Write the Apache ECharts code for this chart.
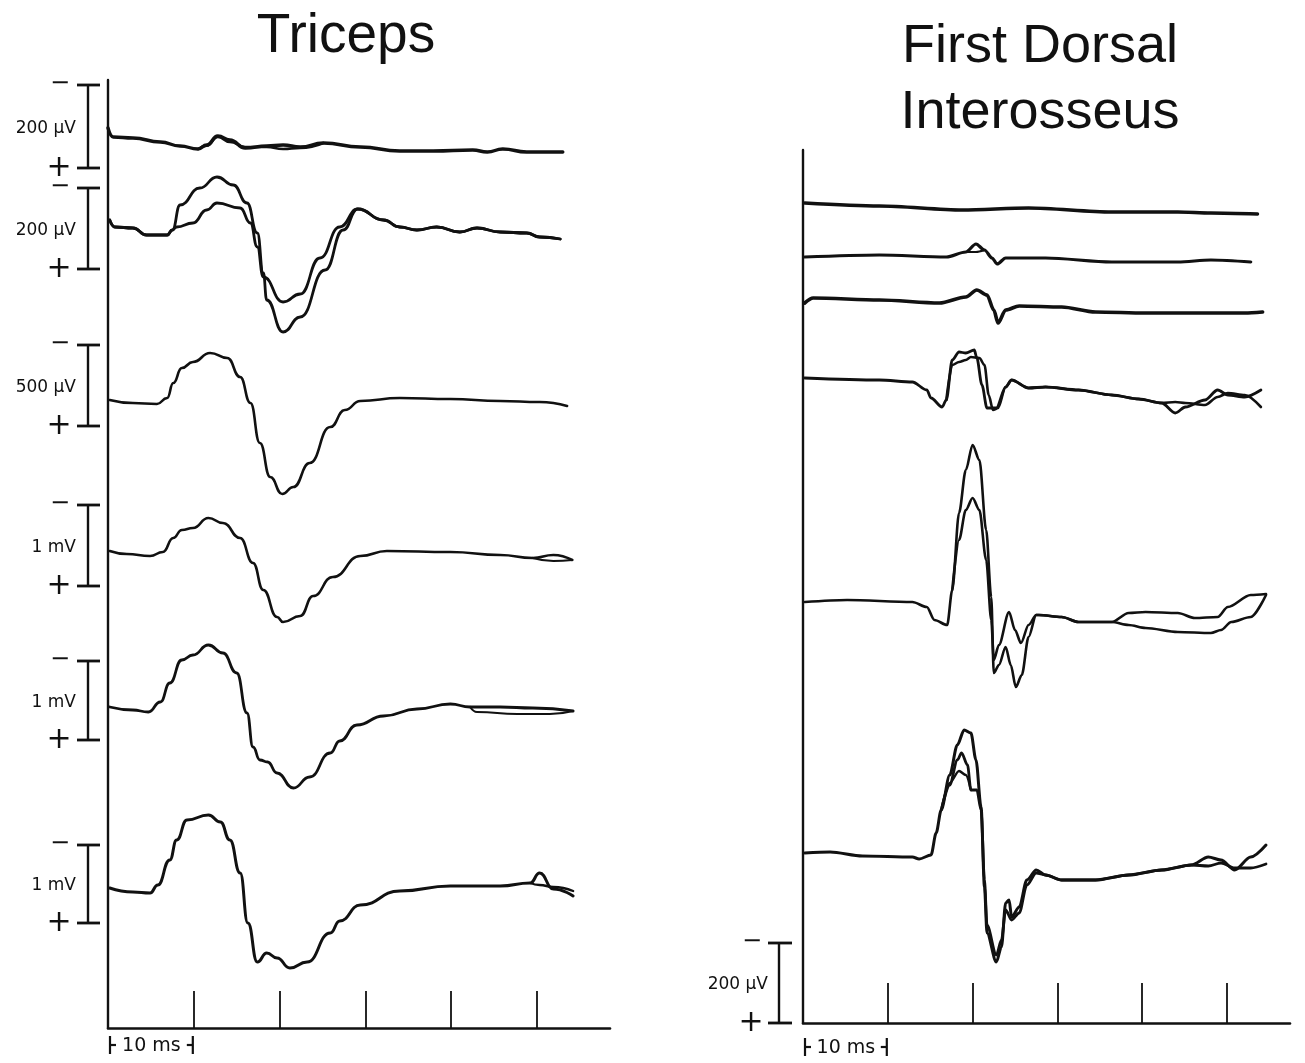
<!DOCTYPE html>
<html><head><meta charset="utf-8">
<script src="https://cdn.jsdelivr.net/npm/echarts@6/dist/echarts.min.js"></script>
<style>html,body{margin:0;padding:0;background:#fff}#c{width:1305px;height:1063px}</style>
</head><body><div id="c"></div><script>
// ---------- DATA (time in ms, amplitude in µV, up = negative polarity as drawn) ----------
const panelTitles = ['Triceps', 'First Dorsal\nInterosseus'];
const timeTicks = [10, 20, 30, 40, 50];
const scaleBarMs = 10;
const scaleBarLabel = '10 ms';

// Triceps: calibration of each row
const triCal = [200, 200, 500, 1000, 1000, 1000];
const triCalLabels = ['200 µV', '200 µV', '500 µV', '1 mV', '1 mV', '1 mV'];

const tri1a = [[0,22.5],[0.6,0],[2.9,-2.5],[6.1,-12.5],[8.4,-22.5],[10.5,-30],[11.5,-20],[12.8,2.5],[14.2,-7.5],[16.0,-27.5],[18.5,-22.5],[20.4,-20],[22.4,-25],[25.1,-15],[29.4,-25],[34.0,-35],[37.9,-35],[42.5,-32.5],[44.2,-37.5],[46.0,-30],[48.8,-37.5],[53.0,-37.5]];
const tri1b = [[10.5,-30],[11.5,-22],[12.8,0],[14.2,-12.5],[16.0,-25],[18.5,-25],[20.4,-30],[22.4,-27.5],[25.1,-15]];

const tri2Start = [[0.2,20],[0.8,2.5],[2.9,0],[4.5,-17.5],[6.9,-17.5],[7.5,-5]];
const tri2PeakA = [[8.4,57.5],[10.7,100],[12.7,127.5],[14.6,107.5],[16.2,62.5],[17.4,-12.5],[18.1,-112.5],[18.5,-180],[20.4,-260],[22.4,-222.5],[25.3,-105],[27.4,-5],[29.1,47.5]];
const tri2PeakB = [[8.0,2.5],[9.9,12.5],[11.5,45],[12.7,62.5],[15.4,50],[16.6,12.5],[17.4,-47.5],[18.1,-122.5],[20.4,-185],[22.4,-165],[24.7,-75],[27.0,2.5],[29.1,47.5]];
const tri2Tail = [[32.1,20],[34.0,2.5],[36.0,-5],[38.3,2.5],[41.0,-10],[43.0,0],[45.7,-10],[48.8,-12.5],[50.3,-22.5],[52.7,-27.5]];

const tri3 = [[0.2,0],[2.9,-19],[5.7,-25],[6.9,12.5],[7.6,106],[8.6,200],[9.9,237.5],[11.9,294],[13.9,262.5],[15.4,144],[16.6,-19],[17.7,-269],[18.9,-481],[20.3,-587.5],[21.6,-544],[23.5,-394],[25.9,-169],[27.6,-62.5],[29.4,-6],[34.0,12.5],[39.9,6],[45.7,-6],[50.3,-12.5],[53.5,-37.5]];

const tri4Main = [[0.2,0],[2.2,-37.5],[4.9,-62.5],[6.4,-12.5],[7.6,162.5],[8.6,262.5],[9.9,287.5],[11.7,412.5],[13.4,350],[15.4,162.5],[16.9,-150],[18.1,-487.5],[19.7,-825],[20.4,-887.5],[22.4,-812.5],[23.9,-562.5],[26.2,-325],[29.4,-62.5],[32.5,0],[39.9,-12.5],[45.7,-50],[49.5,-87.5]];
const tri4TailA = [[51.9,-50],[54.1,-112.5]];
const tri4TailB = [[51.9,-125],[54.1,-112.5]];

const tri5Main = [[0.2,0],[2.9,-37.5],[4.7,-62.5],[6.1,62.5],[7.2,300],[8.6,587.5],[9.9,650],[11.7,775],[13.4,675],[15.0,425],[16.2,-75],[16.9,-500],[17.7,-662.5],[18.6,-687.5],[19.7,-825],[21.6,-1012.5],[23.5,-875],[25.9,-575],[27.0,-425],[29.0,-225],[32.1,-112.5],[36.0,-25],[39.9,37.5],[42.2,0]];
const tri5TailA = [[45.7,0],[49.5,-12.5],[54.2,-50]];
const tri5TailB = [[43.0,-62.5],[47.7,-87.5],[51.5,-87.5],[54.2,-50]];

const tri6Main = [[0.2,12.5],[2.9,-37.5],[4.9,-50],[5.8,50],[7.2,362.5],[8.0,612.5],[9.2,862.5],[11.7,925],[13.1,837.5],[14.2,612.5],[15.4,200],[16.3,-425],[17.4,-912.5],[18.5,-800],[19.7,-862.5],[21.2,-987.5],[23.2,-912.5],[25.9,-550],[27.0,-400],[29.4,-200],[34.0,-25],[39.9,37.5],[45.7,37.5],[49.2,75]];
const tri6TailA = [[50.3,200],[51.9,0],[54.2,-87.5]];
const tri6TailB = [[50.3,50],[51.9,25],[54.2,-25]];

// First dorsal interosseus: all rows at 200 µV
const fdiCal = [200];
const fdiCalLabels = ['200 µV'];

const fdi1 = [[0.2,0],[9.0,-7.5],[18.8,-17.5],[26.6,-12.5],[36.4,-22.5],[44.2,-22.5],[48.1,-25],[53.6,-27.5]];

const fdi2 = [[0.2,0],[9.0,5],[16.9,0],[19.2,12.5],[20.4,32.5],[21.4,17.5],[22.3,-2.5],[22.9,-17.5],[23.9,-2.5],[28.6,-2.5],[36.4,-12.5],[44.2,-12.5],[48.1,-7.5],[52.8,-12.5]];
const fdi2Loop = [[19.2,12.5],[20.4,12.5],[21.4,17.5]];

const fdi3 = [[0.2,-7.5],[1.2,5],[9.0,0],[16.1,-7.5],[19.2,7.5],[20.5,25],[21.7,12.5],[22.5,-25],[23.0,-57.5],[23.9,-25],[25.5,-15],[30.5,-17.5],[34.5,-30],[40.4,-32.5],[46.2,-32.5],[52.1,-32.5],[54.2,-30]];

const fdi4Start = [[0.2,5],[9.0,0],[12.9,-5],[14.6,-25],[15.1,-45],[16.4,-67.5],[16.9,-50]];
const fdi4MidA = [[17.6,50],[18.4,70],[19.2,67.5],[20.2,75],[20.5,55],[21.1,-12.5],[21.7,-70],[22.8,-70]];
const fdi4MidB = [[17.6,37.5],[18.4,45],[19.2,50],[19.8,57.5],[20.8,55],[21.4,37.5],[21.9,-37.5],[22.4,-75],[23.0,-70]];
const fdi4Body = [[23.9,-17.5],[24.6,0],[26.6,-20],[28.6,-17.5],[32.5,-25],[36.4,-37.5],[39.6,-47.5],[42.3,-57.5]];
const fdi4TailA = [[43.9,-82.5],[45.1,-67.5],[47.4,-50],[48.9,-25],[50.1,-37.5],[52.1,-42.5],[54.0,-25]];
const fdi4TailB = [[43.9,-55],[45.1,-57.5],[47.4,-62.5],[48.9,-42.5],[50.1,-32.5],[52.1,-37.5],[54.0,-67.5]];

const fdi5Start = [[0.2,0],[5.2,5],[12.9,0],[14.6,-12.5],[15.5,-45],[17.0,-57.5],[17.6,30]];
const fdi5PeakA = [[18.4,222.5],[19.2,330],[20.0,392.5],[20.8,355],[21.6,180],[22.2,12.5],[22.5,-177.5],[23.1,-157.5],[23.9,-112.5],[24.5,-157.5],[25.1,-212.5],[25.8,-182.5],[26.6,-87.5],[27.5,-32.5]];
const fdi5PeakB = [[18.4,155],[19.2,230],[20.0,260],[20.8,230],[21.6,105],[22.2,-45],[22.5,-145],[23.1,-107.5],[24.3,-25],[25.0,-70],[25.7,-102.5],[26.6,-57.5],[27.5,-32.5]];
const fdi5Body = [[27.8,-32.5],[30.5,-37.5],[32.5,-50],[36.4,-50]];
const fdi5TailA = [[38.4,-27.5],[40.4,-25],[44.2,-27.5],[46.2,-40],[48.9,-37.5],[50.1,-12.5],[52.8,17.5],[54.6,20]];
const fdi5TailB = [[38.4,-57.5],[40.4,-65],[44.2,-75],[48.1,-77.5],[49.3,-70],[50.5,-50],[52.8,-37.5],[54.6,17.5]];

const fdi6Start = [[0.2,5],[3.2,7.5],[7.0,-2.5],[12.9,-5],[13.7,-10],[15.1,0],[15.7,55],[16.3,112.5]];
const fdi6PeakA = [[17.3,200],[18.2,275],[19.0,312.5],[19.8,305],[20.4,237.5],[21.0,120],[21.4,-80],[21.7,-195],[22.8,-267.5],[23.4,-230],[23.9,-120],[24.3,-112.5],[24.6,-155],[25.5,-130],[26.4,-62.5],[27.5,-37.5]];
const fdi6PeakB = [[17.3,175],[18.2,237.5],[18.7,255],[19.4,225],[19.8,162.5],[20.5,162.5],[21.0,112.5],[21.4,-62.5],[21.7,-175],[22.8,-250],[23.4,-212.5],[23.9,-137.5],[24.6,-162.5],[25.5,-145],[26.4,-75],[27.5,-45]];
const fdi6PeakC = [[16.3,112.5],[17.3,180],[18.4,210],[19.2,200],[19.8,162.5]];
const fdi6Body = [[28.6,-50],[30.5,-62.5],[34.5,-62.5],[38.4,-50],[42.3,-37.5],[45.8,-25]];
const fdi6TailA = [[47.8,-5],[49.3,-12.5],[50.9,-37.5],[52.8,-5],[54.6,25]];
const fdi6TailB = [[47.8,-27.5],[49.3,-20],[50.9,-32.5],[52.8,-32.5],[54.6,-22.5]];

// ---------- LAYOUT (row baselines, in calibration-bar units above the time axis) ----------
const triRows = [11.1375, 10.0, 7.85, 5.9625, 4.0125, 1.7375];
const triCalBars = [[11.7875,10.75],[10.5,9.4875],[8.5375,7.525],[6.5375,5.525],[4.5875,3.6],[2.2875,1.3125]];
const fdiRows = [10.25, 9.575, 9.0375, 8.0375, 5.2625, 2.1];
const fdiCalBars = [[1.0, 0.0]];

const INK = '#111';
const cat = (...parts) => [].concat(...parts);

const traces = [
  // panel, row, cal, data, width
  [0, 0, triCal[0], tri1a, 3.4],
  [0, 0, triCal[0], tri1b, 2.6],
  [0, 1, triCal[1], cat(tri2Start, tri2PeakA, tri2Tail), 2.8],
  [0, 1, triCal[1], cat(tri2Start, tri2PeakB, tri2Tail), 2.8],
  [0, 2, triCal[2], tri3, 2.6],
  [0, 3, triCal[3], cat(tri4Main, tri4TailA), 2.6],
  [0, 3, triCal[3], cat(tri4Main.slice(-1), tri4TailB), 2.2],
  [0, 4, triCal[4], cat(tri5Main, tri5TailA), 2.8],
  [0, 4, triCal[4], cat(tri5Main.slice(-1), tri5TailB), 2.2],
  [0, 5, triCal[5], cat(tri6Main, tri6TailA), 3.0],
  [0, 5, triCal[5], cat(tri6Main.slice(-1), tri6TailB), 2.4],
  [1, 0, fdiCal[0], fdi1, 3.4],
  [1, 1, fdiCal[0], fdi2, 3.2],
  [1, 1, fdiCal[0], fdi2Loop, 2.2],
  [1, 2, fdiCal[0], fdi3, 3.6],
  [1, 3, fdiCal[0], cat(fdi4Start, fdi4MidA, fdi4Body, fdi4TailA), 2.8],
  [1, 3, fdiCal[0], cat(fdi4Start.slice(-1), fdi4MidB, fdi4Body, fdi4TailB), 2.6],
  [1, 4, fdiCal[0], cat(fdi5Start, fdi5PeakA, fdi5Body, fdi5TailA), 2.6],
  [1, 4, fdiCal[0], cat(fdi5Start.slice(-1), fdi5PeakB, fdi5Body, fdi5TailB), 2.6],
  [1, 5, fdiCal[0], cat(fdi6Start, fdi6PeakA, fdi6Body, fdi6TailA), 3.0],
  [1, 5, fdiCal[0], cat(fdi6Start.slice(-1), fdi6PeakB, fdi6Body, fdi6TailB), 2.8],
  [1, 5, fdiCal[0], fdi6PeakC, 2.4]
];

const series = traces.map(([panel, row, cal, data, w]) => {
  const base = (panel === 0 ? triRows : fdiRows)[row];
  return {
    type: 'line', xAxisIndex: panel, yAxisIndex: panel,
    data: data.map(([t, v]) => [t, base + v / cal]),
    showSymbol: false, smooth: panel === 0 ? 0.5 : 0.3, smoothMonotone: 'x',
    lineStyle: { color: INK, width: w, cap: 'round', join: 'round' },
    silent: true, animation: false
  };
});

function calRenderer(labels, o) {
  return function (params, api) {
    const top = api.coord([0, api.value(0)]);
    const bot = api.coord([0, api.value(1)]);
    const x0 = top[0];
    const ls = { stroke: INK, lineWidth: 2.4 };
    return { type: 'group', children: [
      { type: 'line', shape: { x1: x0 - o.bar, y1: top[1], x2: x0 - o.bar, y2: bot[1] }, style: ls },
      { type: 'line', shape: { x1: x0 - o.t1, y1: top[1], x2: x0 - o.t2, y2: top[1] }, style: { stroke: INK, lineWidth: 2.8 } },
      { type: 'line', shape: { x1: x0 - o.t1, y1: bot[1], x2: x0 - o.t2, y2: bot[1] }, style: { stroke: INK, lineWidth: 2.8 } },
      { type: 'text', style: { text: '−', x: x0 - o.sign, y: top[1] - 1, align: 'center', verticalAlign: 'middle', font: '24px "DejaVu Sans"', fill: INK } },
      { type: 'text', style: { text: '+', x: x0 - o.sign - 1, y: bot[1], align: 'center', verticalAlign: 'middle', font: '30px "DejaVu Sans"', fill: INK } },
      { type: 'text', style: { text: labels[api.value(2)], x: x0 - o.lab, y: (top[1] + bot[1]) / 2 + 2, align: 'right', verticalAlign: 'middle', font: '17px "DejaVu Sans"', fill: INK } }
    ] };
  };
}

function scaleBarRenderer(off) {
  return function (params, api) {
    const p0 = api.coord([api.value(0), 0]);
    const p1 = api.coord([api.value(1), 0]);
    const y = p0[1] + off;
    const ls = { stroke: INK, lineWidth: 2.2 };
    const a = p0[0] + 2, b = p1[0] - 1;
    return { type: 'group', children: [
      { type: 'line', shape: { x1: a, y1: y - 9, x2: a, y2: y + 9 }, style: ls },
      { type: 'line', shape: { x1: a, y1: y, x2: a + 6, y2: y }, style: ls },
      { type: 'line', shape: { x1: b, y1: y - 9, x2: b, y2: y + 9 }, style: ls },
      { type: 'line', shape: { x1: b - 6, y1: y, x2: b, y2: y }, style: ls },
      { type: 'text', style: { text: scaleBarLabel, x: (a + b) / 2, y: y + 1, align: 'center', verticalAlign: 'middle', font: '19px "DejaVu Sans"', fill: INK } }
    ] };
  };
}

series.push({
  type: 'custom', xAxisIndex: 0, yAxisIndex: 0, clip: false, silent: true, animation: false,
  data: triCalBars.map((b, i) => [b[0], b[1], i]),
  renderItem: calRenderer(triCalLabels, { bar: 20, t1: 31, t2: 8, sign: 48, lab: 32 })
});
series.push({
  type: 'custom', xAxisIndex: 1, yAxisIndex: 1, clip: false, silent: true, animation: false,
  data: fdiCalBars.map((b, i) => [b[0], b[1], i]),
  renderItem: calRenderer(fdiCalLabels, { bar: 24, t1: 35, t2: 11, sign: 51, lab: 35 })
});
series.push({
  type: 'custom', xAxisIndex: 0, yAxisIndex: 0, clip: false, silent: true, animation: false,
  data: [[0, scaleBarMs]], renderItem: scaleBarRenderer(17)
});
series.push({
  type: 'custom', xAxisIndex: 1, yAxisIndex: 1, clip: false, silent: true, animation: false,
  data: [[0, scaleBarMs]], renderItem: scaleBarRenderer(24)
});

function xAx(gi, max) {
  return {
    gridIndex: gi, type: 'value', min: 0, max: max,
    axisLine: { show: true, onZero: false, lineStyle: { color: INK, width: 2.6 } },
    axisTick: { show: true, inside: true, length: gi === 0 ? 37 : 40, customValues: timeTicks, lineStyle: { color: INK, width: 1.8 } },
    axisLabel: { show: false }, splitLine: { show: false }
  };
}
function yAx(gi, max) {
  return {
    gridIndex: gi, type: 'value', min: 0, max: max,
    axisLine: { show: true, onZero: false, lineStyle: { color: INK, width: 2.4 } },
    axisTick: { show: false }, axisLabel: { show: false }, splitLine: { show: false }
  };
}

const chart = echarts.init(document.getElementById('c'));
chart.setOption({
  backgroundColor: '#fff',
  animation: false,
  title: [
    { text: panelTitles[0], left: 341, textAlign: 'center', top: 4,
      textStyle: { fontSize: 55, fontWeight: 'normal', fontFamily: '"Liberation Sans", Arial, sans-serif', color: INK } },
    { text: panelTitles[1], left: 1035, textAlign: 'center', top: 9,
      textStyle: { fontSize: 54, lineHeight: 66, fontWeight: 'normal', fontFamily: '"Liberation Sans", Arial, sans-serif', color: INK } }
  ],
  grid: [
    { left: 108, top: 80, width: 502, height: 948 },
    { left: 803, top: 150, width: 487, height: 873 }
  ],
  xAxis: [xAx(0, 58.5), xAx(1, 57.43)],
  yAxis: [yAx(0, 11.85), yAx(1, 10.9125)],
  series: series
});
</script></body></html>
